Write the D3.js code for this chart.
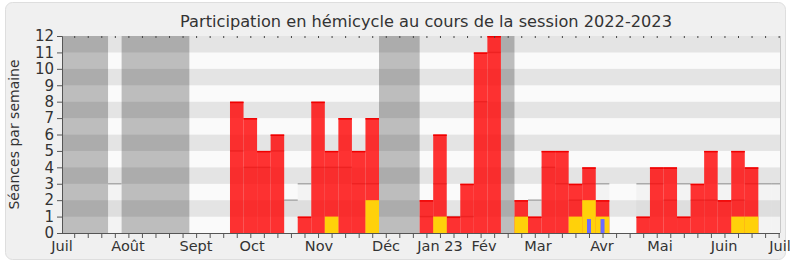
<!DOCTYPE html>
<html><head><meta charset="utf-8">
<script src="https://cdn.jsdelivr.net/npm/d3@7"></script>
<style>html,body{margin:0;padding:0;background:#fff;}svg{display:block;font-family:"DejaVu Sans",sans-serif;}</style>
</head><body>
<svg id="c" width="790" height="267"></svg>
<script>
// ---- data ----
const weeks   = d3.range(53);
const seances = [0,0,0,0,0,0,0,0,0,0,0,0, 8,7,5,6,0,1,8,5,7,5,7, 0,0,0, 2,6,1,3,11,12, 0, 2,1,5,5,3,4,2, 0,0, 1,4,4,1,3,5,2,5,4, 0,0];
const jaune   = [0,0,0,0,0,0,0,0,0,0,0,0, 0,0,0,0,0,0,0,1,0,0,2, 0,0,0, 0,1,0,0,0,0, 0, 1,0,0,0,1,2,1, 0,0, 0,0,0,0,0,0,0,1,1, 0,0];
const bleu    = [0,0,0,0,0,0,0,0,0,0,0,0, 0,0,0,0,0,0,0,0,0,0,0, 0,0,0, 0,0,0,0,0,0, 0, 0,0,0,0,0,0.85,0.85, 0,0, 0,0,0,0,0,0,0,0,0, 0,0];
const mediane = [null,null,null,3,null,null,null,null,null,null,null,null, 5,4,4,5,2,3,4,4,4,3,3, null,null,null, 1,3,1,1,8,11, null, 1,2,4,3,2,3,3, null,null, 3,3,2,3,2,2,3,2,3, 3,3];
const vacances = [[-1,3],[4,9],[23,26],[32,33]];
const moisLabels = ["Juil","Août","Sept","Oct","Nov","Déc","Jan 23","Fév","Mar","Avr","Mai","Juin","Juil"];
const moisPos    = [-0.4, 4.47, 9.49, 13.63, 18.57, 23.52, 27.5, 30.75, 34.74, 39.46, 43.74, 48.47, 52.6];
const yTicks = d3.range(0, 13);
const title = "Participation en hémicycle au cours de la session 2022-2023";
const yTitle = "Séances par semaine";

// ---- layout ----
const svg = d3.select("#c");
const L = 62, R = 780, T = 36, B = 233;
const x = d3.scaleLinear().domain([-0.4, 52.6]).range([L, R]);
const y = d3.scaleLinear().domain([0, 12]).range([B, T]);

svg.append("rect").attr("x", 5.5).attr("y", 2.5).attr("width", 780).attr("height", 257)
  .attr("rx", 7).attr("fill", "#f0f0f0").attr("stroke", "#dedede");

svg.append("text").attr("x", 426).attr("y", 27).attr("text-anchor", "middle")
  .attr("font-size", 16.2).attr("fill", "#333").text(title);

svg.append("defs").append("clipPath").attr("id", "clip")
  .append("rect").attr("x", L).attr("y", T).attr("width", R - L).attr("height", B - T);

const g = svg.append("g").attr("clip-path", "url(#clip)");

// bands
g.selectAll("rect.band").data(d3.range(12)).join("rect")
  .attr("x", L).attr("width", R - L)
  .attr("y", d => y(d + 1)).attr("height", d => y(d) - y(d + 1))
  .attr("fill", d => d % 2 === 0 ? "#fafafa" : "#e4e4e4");

// vacations
g.selectAll("rect.vac").data(vacances).join("rect")
  .attr("x", d => x(d[0])).attr("width", d => x(d[1]) - x(d[0]))
  .attr("y", T).attr("height", B - T)
  .attr("fill", "#000").attr("fill-opacity", 0.245);

const bw = x(1) - x(0);
// ghost (median)
const med = weeks.filter(k => mediane[k] != null);
g.selectAll("rect.med").data(med).join("rect")
  .attr("x", k => x(k)).attr("width", bw)
  .attr("y", k => y(mediane[k])).attr("height", k => B - y(mediane[k]))
  .attr("fill", "#808080").attr("fill-opacity", 0.06);
g.selectAll("line.med").data(med).join("line")
  .attr("x1", k => x(k)).attr("x2", k => x(k) + bw)
  .attr("y1", k => y(mediane[k])).attr("y2", k => y(mediane[k]))
  .attr("stroke", "#aaaaaa").attr("stroke-width", 1.5);

// red bars
const rk = weeks.filter(k => seances[k] > 0);
g.selectAll("rect.red").data(rk).join("rect")
  .attr("x", k => x(k)).attr("width", bw)
  .attr("y", k => y(seances[k])).attr("height", k => B - y(seances[k]))
  .attr("fill", "#ff0000").attr("fill-opacity", 0.8);
g.selectAll("line.redtop").data(rk).join("line")
  .attr("x1", k => x(k)).attr("x2", k => x(k) + bw)
  .attr("y1", k => y(seances[k]) + 0.75).attr("y2", k => y(seances[k]) + 0.75)
  .attr("stroke", "#f00000").attr("stroke-width", 1.5);

// yellow bars
const yk = weeks.filter(k => jaune[k] > 0);
g.selectAll("rect.yel").data(yk).join("rect")
  .attr("x", k => x(k)).attr("width", bw)
  .attr("y", k => y(jaune[k])).attr("height", k => B - y(jaune[k]))
  .attr("fill", "#ffd10a");

// blue bars
const bk = weeks.filter(k => bleu[k] > 0);
g.selectAll("rect.blu").data(bk).join("rect")
  .attr("x", k => x(k + 0.5) - 2).attr("width", 4)
  .attr("y", k => y(bleu[k])).attr("height", k => B - y(bleu[k]))
  .attr("fill", "#6b6bff");

// frame right
svg.append("line").attr("x1", R + 0.5).attr("x2", R + 0.5).attr("y1", T).attr("y2", B)
  .attr("stroke", "#c8c8c8");

// y axis
const yAxis = d3.axisLeft(y).tickValues(yTicks).tickSize(5).tickPadding(3).tickFormat(d3.format("d"));
const ya = svg.append("g").attr("transform", `translate(${L},0)`).call(yAxis);
ya.select(".domain").attr("stroke", "#555");
ya.selectAll(".tick line").attr("stroke", "#555");
ya.selectAll("text").attr("font-size", 15).attr("fill", "#333").attr("font-family", "DejaVu Sans");

// x axis ticks (week centres)
const xAxis = d3.axisBottom(x).tickValues(weeks.map(k => k + 0.5)).tickSize(5).tickFormat("");
const xa = svg.append("g").attr("transform", `translate(0,${B})`).call(xAxis);
xa.select(".domain").attr("stroke", "#555").attr("d", `M${L},0.5H${R}`);
xa.selectAll(".tick line").attr("stroke", "#555");
// top ticks
const xTop = d3.axisTop(x).tickValues(weeks.map(k => k + 0.5)).tickSize(-2).tickFormat("");
const xt = svg.append("g").attr("transform", `translate(0,${T})`).call(xTop);
xt.select(".domain").remove();
xt.selectAll(".tick line").attr("stroke", "#444");

// month labels
svg.append("g").selectAll("text").data(moisLabels).join("text")
  .attr("x", (d, i) => x(moisPos[i])).attr("y", 251)
  .attr("text-anchor", "middle").attr("font-size", 14.5).attr("fill", "#333").text(d => d);

// y title
svg.append("text").attr("transform", `translate(19,${(T + B) / 2}) rotate(-90)`)
  .attr("text-anchor", "middle").attr("font-size", 14).attr("fill", "#333").text(yTitle);
</script>
</body></html>
